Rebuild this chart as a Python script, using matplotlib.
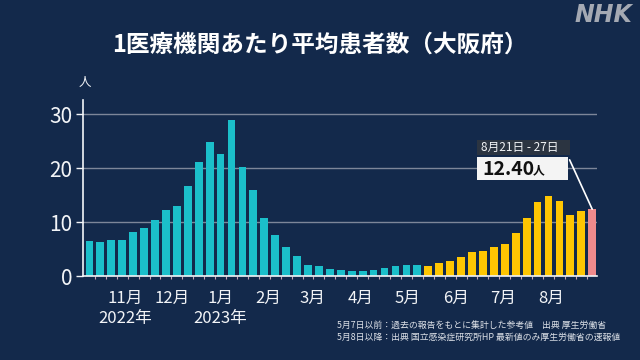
import datetime as dt

import matplotlib

matplotlib.use("Agg")
import matplotlib.pyplot as plt  # noqa: E402
from matplotlib.patches import Rectangle  # noqa: E402

plt.rcParams["font.family"] = ["Noto Sans CJK JP", "DejaVu Sans"]

# weekly average patients per medical institution, Osaka (week 1 = 2022-10-03)
FIRST_WEEK = dt.date(2022, 10, 3)
before_may8 = [6.56, 6.26, 6.63, 6.69, 8.12, 8.92, 10.4, 12.2, 12.9, 16.7,
               21.1, 24.9, 22.7, 29.0, 20.3, 15.9, 10.8, 7.7, 5.45, 3.77,
               2.1, 1.9, 1.3, 1.05, 1.0, 1.0, 1.05, 1.55, 1.8, 2.1, 2.1]
after_may8 = [1.86, 2.47, 2.84, 3.47, 4.46, 4.7, 5.33, 6.0, 8.0, 10.7,
              13.7, 14.9, 13.9, 11.3, 12.0]
latest = [12.40]
latest_label = "8月21日 - 27日"

month_starts = [dt.date(2022, 11, 1), dt.date(2022, 12, 1), dt.date(2023, 1, 1),
                dt.date(2023, 2, 1), dt.date(2023, 3, 1), dt.date(2023, 4, 1),
                dt.date(2023, 5, 1), dt.date(2023, 6, 1), dt.date(2023, 7, 1),
                dt.date(2023, 8, 1)]
month_labels = ["11月", "12月", "1月", "2月", "3月", "4月", "5月", "6月", "7月", "8月"]
year_labels = {0: "2022年", 2: "2023年"}  # index into month_starts

y_ticks = [0, 10, 20, 30]

title = "1医療機関あたり平均患者数（大阪府）"
notes = ["5月7日以前：過去の報告をもとに集計した参考値　出典 厚生労働省",
         "5月8日以降：出典 国立感染症研究所HP 最新値のみ厚生労働省の速報値"]

BG = "#13294b"
TEAL = "#1bbfca"
YELLOW = "#ffc602"
PINK = "#ef8a8c"
GRID = "#7d8699"
WHITE = "#f2f4f7"

fig = plt.figure(figsize=(6.4, 3.6), dpi=100)
fig.patch.set_facecolor(BG)
ax = fig.add_axes([0.130, 0.2333, 0.803, 0.4889])
ax.set_facecolor(BG)

groups = [(before_may8, TEAL), (after_may8, YELLOW), (latest, PINK)]
start = 0
for vals, col in groups:
    xs = list(range(start, start + len(vals)))
    ax.bar(xs, vals, width=0.71, color=col, zorder=3)
    start += len(vals)
n_weeks = start

ax.set_xlim(-0.57, n_weeks - 0.55)
ax.set_ylim(0, 32.65)

ax.set_yticks(y_ticks)
ax.set_yticklabels([str(v) for v in y_ticks], fontsize=15, color=WHITE)
ax.tick_params(axis="y", length=5, width=1, color=WHITE, pad=3)
ax.grid(axis="y", color=GRID, linewidth=1.0, zorder=1)

# month labels sit a little left of each month's first day
tick_x = [(d - FIRST_WEEK).days / 7 - 0.9 for d in month_starts]
ax.set_xticks(tick_x)
ax.set_xticklabels(month_labels, fontsize=12, color=WHITE)
ax.tick_params(axis="x", length=0, pad=10)
ax.set_xticks([i + 0.5 for i in range(n_weeks - 1)], minor=True)
ax.tick_params(axis="x", which="minor", length=2, width=0.8, color="#c9a3b5")

for i, lab in year_labels.items():
    ax.text(tick_x[i], -0.243, lab, transform=ax.get_xaxis_transform(),
            ha="center", va="center", fontsize=12, color=WHITE)

for s in ("top", "right"):
    ax.spines[s].set_visible(False)
for s in ("left", "bottom"):
    ax.spines[s].set_color(WHITE)
    ax.spines[s].set_linewidth(1.2)
    ax.spines[s].set_zorder(4)

fig.text(0.133, 0.770, "人", ha="center", va="center", fontsize=9, color=WHITE)

fig.text(0.5, 0.875, title, ha="center", va="center", fontsize=17,
         fontweight="bold", color="white")
fig.text(0.988, 0.958, "NHK", ha="right", va="center", fontsize=17,
         fontweight="heavy", style="italic", color="#a4a9b3",
         family="DejaVu Sans")

for k, line in enumerate(notes):
    fig.text(0.526, 0.097 - k * 0.034, line, ha="left", va="center",
             fontsize=6.4, color="#dde1e8")

# tooltip for the latest week
fig.patches.append(Rectangle((0.745, 0.5694), 0.146, 0.0417,
                             transform=fig.transFigure, facecolor="#2b3441",
                             edgecolor="none", zorder=5))
fig.patches.append(Rectangle((0.745, 0.500), 0.143, 0.0639,
                             transform=fig.transFigure, facecolor="#f4f4f4",
                             edgecolor="none", zorder=5))
fig.text(0.752, 0.590, latest_label, ha="left", va="center", fontsize=8.5,
         color=WHITE, zorder=6)
fig.text(0.753, 0.530, f"{latest[0]:.2f}", ha="left", va="center",
         fontsize=14, fontweight="bold", color="#111111", zorder=6)
fig.text(0.832, 0.525, "人", ha="left", va="center", fontsize=8.5,
         fontweight="bold", color="#111111", zorder=6)
ax.annotate("", xy=(n_weeks - 1, latest[0]), xycoords="data",
            xytext=(0.890, 0.556), textcoords="figure fraction",
            arrowprops=dict(arrowstyle="-", color="white", lw=1.2,
                            shrinkA=0, shrinkB=0), zorder=6)

fig.savefig("out.png", dpi=100, facecolor=BG)
